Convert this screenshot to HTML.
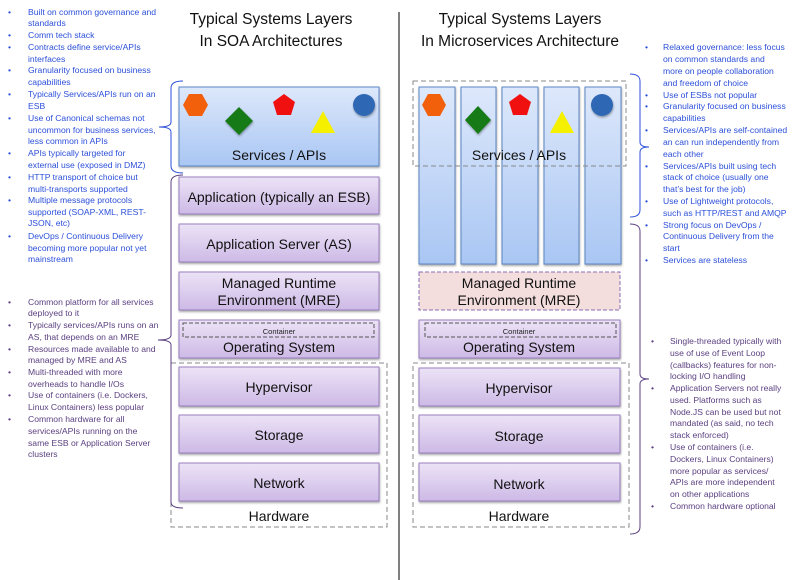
<!DOCTYPE html>
<html><head><meta charset="utf-8"><style>
body{margin:0;background:#fff;}
svg{display:block;}
.t{font-family:"Liberation Sans",sans-serif;}
.b{font-family:"Liberation Sans",sans-serif;font-size:8.6px;fill:#2b4fd9;}
.p{font-family:"Liberation Sans",sans-serif;font-size:8.6px;fill:#5a3f80;}
.lbl{font-family:"Liberation Sans",sans-serif;font-size:14px;fill:#111;text-anchor:middle;}
</style></head><body>
<svg width="800" height="580" viewBox="0 0 800 580" xmlns="http://www.w3.org/2000/svg">
<defs>
<linearGradient id="bl" x1="0" y1="0" x2="0" y2="1"><stop offset="0" stop-color="#dde8fb"/><stop offset="1" stop-color="#a9c6f3"/></linearGradient>
<linearGradient id="pu" x1="0" y1="0" x2="0" y2="1"><stop offset="0" stop-color="#ece3f6"/><stop offset="1" stop-color="#cdb9e6"/></linearGradient>
<filter id="sh" x="-10%" y="-10%" width="130%" height="140%"><feDropShadow dx="0.5" dy="1.5" stdDeviation="1" flood-color="#000" flood-opacity="0.35"/></filter>
</defs>
<line x1="399" y1="12" x2="399" y2="580" stroke="#555" stroke-width="1.5"/>
<g class="t" font-size="15.5" fill="#111" text-anchor="middle">
<text x="271" y="24">Typical Systems Layers</text>
<text x="271" y="46">In SOA Architectures</text>
<text x="520" y="24">Typical Systems Layers</text>
<text x="520" y="46">In Microservices Architecture</text>
</g>
<!-- LEFT stack -->
<rect x="179" y="87" width="200" height="79" fill="url(#bl)" stroke="#5b86c5" filter="url(#sh)"/>
<polygon points="183,105 189,94 202,94 208,105 202,116 189,116" fill="#f2600c"/>
<polygon points="239,107 253,121 239,135 225,121" fill="#127a12" filter="url(#sh)"/>
<polygon points="284,94 295,102 291,115 277,115 273,102" fill="#f01010"/>
<polygon points="323,111 335,133 311,133" fill="#f5f000"/>
<circle cx="364" cy="105" r="11" fill="#2d68b4" filter="url(#sh)"/>
<text class="lbl" x="279" y="160">Services / APIs</text>
<g fill="url(#pu)" stroke="#9a7fc0" filter="url(#sh)">
<rect x="179" y="177" width="200" height="37"/>
<rect x="179" y="224" width="200" height="38"/>
<rect x="179" y="272" width="200" height="38"/>
<rect x="179" y="320" width="200" height="38"/>
<rect x="179" y="367" width="200" height="39"/>
<rect x="179" y="415" width="200" height="38"/>
<rect x="179" y="463" width="200" height="38"/>
</g>
<rect x="183" y="323" width="191" height="14" fill="none" stroke="#555" stroke-dasharray="4,2"/>
<text class="t" x="279" y="334" font-size="7.5" text-anchor="middle" fill="#222">Container</text>
<rect x="171" y="363" width="216" height="164" fill="none" stroke="#888" stroke-dasharray="5,3"/>
<g>
<text class="lbl" x="279" y="202">Application (typically an ESB)</text>
<text class="lbl" x="279" y="249">Application Server (AS)</text>
<text class="lbl" x="279" y="288">Managed Runtime</text>
<text class="lbl" x="279" y="305">Environment (MRE)</text>
<text class="lbl" x="279" y="352">Operating System</text>
<text class="lbl" x="279" y="392">Hypervisor</text>
<text class="lbl" x="279" y="440">Storage</text>
<text class="lbl" x="279" y="488">Network</text>
<text class="lbl" x="279" y="521">Hardware</text>
</g>
<!-- RIGHT stack -->
<g fill="url(#bl)" stroke="#5b86c5" filter="url(#sh)">
<rect x="419" y="87" width="36" height="177"/>
<rect x="461" y="87" width="35" height="177"/>
<rect x="502" y="87" width="36" height="177"/>
<rect x="544" y="87" width="35" height="177"/>
<rect x="585" y="87" width="36" height="177"/>
</g>
<rect x="413" y="81" width="213" height="85" fill="none" stroke="#888" stroke-dasharray="5,3"/>
<polygon points="422,105 428,94 440,94 446,105 440,116 428,116" fill="#f2600c"/>
<polygon points="478,106 491,120 478,134 465,120" fill="#127a12" filter="url(#sh)"/>
<polygon points="520,94 531,102 527,115 513,115 509,102" fill="#f01010"/>
<polygon points="562,111 574,133 550,133" fill="#f5f000"/>
<circle cx="602" cy="105" r="11" fill="#2d68b4" filter="url(#sh)"/>
<text class="lbl" x="519" y="160">Services / APIs</text>
<rect x="419" y="272" width="201" height="38" fill="#f3dedd" stroke="#8a6db5" stroke-dasharray="4,2"/>
<g fill="url(#pu)" stroke="#9a7fc0" filter="url(#sh)">
<rect x="419" y="320" width="201" height="38"/>
<rect x="419" y="368" width="201" height="38"/>
<rect x="419" y="415" width="201" height="38"/>
<rect x="419" y="463" width="201" height="38"/>
</g>
<rect x="425" y="323" width="191" height="14" fill="none" stroke="#555" stroke-dasharray="4,2"/>
<text class="t" x="519" y="334" font-size="7.5" text-anchor="middle" fill="#222">Container</text>
<rect x="413" y="363" width="216" height="164" fill="none" stroke="#888" stroke-dasharray="5,3"/>
<text class="lbl" x="519" y="288">Managed Runtime</text>
<text class="lbl" x="519" y="305">Environment (MRE)</text>
<text class="lbl" x="519" y="352">Operating System</text>
<text class="lbl" x="519" y="393">Hypervisor</text>
<text class="lbl" x="519" y="441">Storage</text>
<text class="lbl" x="519" y="489">Network</text>
<text class="lbl" x="519" y="521">Hardware</text>
<!-- braces -->
<path d="M183,81 Q171,81 171,88 L171,122 Q171,127 159,127 Q171,127 171,132 L171,166 Q171,173 183,173" fill="none" stroke="#2b4fd9" stroke-width="1"/>
<path d="M183,175 Q171,175 171,182 L171,335 Q171,340 158,340 Q171,340 171,345 L171,502 Q171,508 183,508" fill="none" stroke="#5a3f80" stroke-width="1"/>
<path d="M630,74 Q640,74 640,81 L640,142 Q640,147 649,147 Q640,147 640,152 L640,210 Q640,217 630,217" fill="none" stroke="#2b4fd9" stroke-width="1"/>
<path d="M630,224 Q640,224 640,231 L640,374 Q640,379 649,379 Q640,379 640,384 L640,527 Q640,534 630,534" fill="none" stroke="#5a3f80" stroke-width="1"/>
<!-- left top text -->
<g class="b">
<text x="8" y="15">•</text><text x="28" y="15">Built on common governance and</text><text x="28" y="26">standards</text>
<text x="8" y="38">•</text><text x="28" y="38">Comm tech stack</text>
<text x="8" y="50">•</text><text x="28" y="50">Contracts define service/APIs</text><text x="28" y="62">interfaces</text>
<text x="8" y="73">•</text><text x="28" y="73">Granularity focused on business</text><text x="28" y="85">capabilities</text>
<text x="8" y="97">•</text><text x="28" y="97">Typically Services/APIs run on an</text><text x="28" y="109">ESB</text>
<text x="8" y="121">•</text><text x="28" y="121">Use of Canonical schemas not</text><text x="28" y="133">uncommon for business services,</text><text x="28" y="144">less common in APIs</text>
<text x="8" y="156">•</text><text x="28" y="156">APIs typically targeted for</text><text x="28" y="168">external use (exposed in DMZ)</text>
<text x="8" y="180">•</text><text x="28" y="180">HTTP transport of choice but</text><text x="28" y="192">multi-transports supported</text>
<text x="8" y="203">•</text><text x="28" y="203">Multiple message protocols</text><text x="28" y="215">supported (SOAP-XML, REST-</text><text x="28" y="226">JSON, etc)</text>
<text x="8" y="239">•</text><text x="28" y="239">DevOps / Continuous Delivery</text><text x="28" y="251">becoming more popular not yet</text><text x="28" y="262">mainstream</text>
</g>
<g class="p">
<text x="8" y="305">•</text><text x="28" y="305">Common platform for all services</text><text x="28" y="316">deployed to it</text>
<text x="8" y="328">•</text><text x="28" y="328">Typically services/APIs runs on an</text><text x="28" y="340">AS, that depends on an MRE</text>
<text x="8" y="352">•</text><text x="28" y="352">Resources made available to and</text><text x="28" y="363">managed by MRE and AS</text>
<text x="8" y="375">•</text><text x="28" y="375">Multi-threaded with more</text><text x="28" y="387">overheads to handle I/Os</text>
<text x="8" y="398">•</text><text x="28" y="398">Use of containers (i.e. Dockers,</text><text x="28" y="410">Linux Containers) less popular</text>
<text x="8" y="422">•</text><text x="28" y="422">Common hardware for all</text><text x="28" y="434">services/APIs running on the</text><text x="28" y="446">same ESB or Application Server</text><text x="28" y="457">clusters</text>
</g>
<g class="b">
<text x="645" y="50">•</text><text x="663" y="50">Relaxed governance: less focus</text><text x="663" y="62">on common standards and</text><text x="663" y="74">more on people collaboration</text><text x="663" y="86">and freedom of choice</text>
<text x="645" y="98">•</text><text x="663" y="98">Use of ESBs not popular</text>
<text x="645" y="109">•</text><text x="663" y="109">Granularity focused on business</text><text x="663" y="121">capabilities</text>
<text x="645" y="133">•</text><text x="663" y="133">Services/APIs are self-contained</text><text x="663" y="145">an can run independently from</text><text x="663" y="157">each other</text>
<text x="645" y="169">•</text><text x="663" y="169">Services/APIs built using tech</text><text x="663" y="180">stack of choice (usually one</text><text x="663" y="192">that’s best for the job)</text>
<text x="645" y="204">•</text><text x="663" y="204">Use of Lightweight protocols,</text><text x="663" y="216">such as HTTP/REST and AMQP</text>
<text x="645" y="228">•</text><text x="663" y="228">Strong focus on DevOps /</text><text x="663" y="239">Continuous Delivery from the</text><text x="663" y="251">start</text>
<text x="645" y="263">•</text><text x="663" y="263">Services are stateless</text>
</g>
<g class="p">
<text x="651" y="344">•</text><text x="670" y="344">Single-threaded typically with</text><text x="670" y="356">use of use of Event Loop</text><text x="670" y="368">(callbacks) features for non-</text><text x="670" y="379">locking I/O handling</text>
<text x="651" y="391">•</text><text x="670" y="391">Application Servers not really</text><text x="670" y="403">used. Platforms such as</text><text x="670" y="415">Node.JS can be used but not</text><text x="670" y="426">mandated (as said, no tech</text><text x="670" y="438">stack enforced)</text>
<text x="651" y="450">•</text><text x="670" y="450">Use of containers (i.e.</text><text x="670" y="462">Dockers, Linux Containers)</text><text x="670" y="474">more popular as services/</text><text x="670" y="485">APIs are more independent</text><text x="670" y="497">on other applications</text>
<text x="651" y="509">•</text><text x="670" y="509">Common hardware optional</text>
</g>
</svg>
</body></html>
